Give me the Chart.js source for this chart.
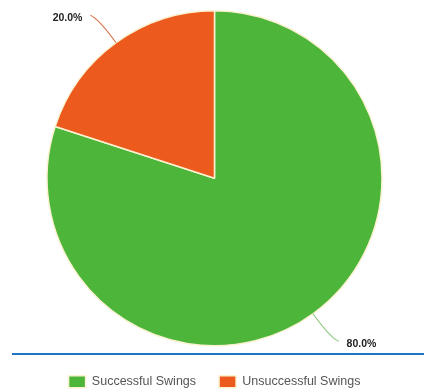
<!DOCTYPE html>
<html>
<head>
<meta charset="utf-8">
<script src="https://cdn.jsdelivr.net/npm/chart.js@4/dist/chart.umd.min.js"></script>
<style>
  html, body { margin: 0; padding: 0; background: #fff; }
  #wrap { width: 424px; height: 392px; }
</style>
</head>
<body>
<div id="wrap"><canvas id="pieChart" width="424" height="392"></canvas></div>
<script>
var labels = ['Successful Swings', 'Unsuccessful Swings'];
var values = [80, 20];
var colors = ['#4cb53a', '#ec5a1e'];
var leaderColors = ['#8fc77f', '#d8774f'];

// percent labels with curved leader lines
var outLabels = {
  id: 'outLabels',
  afterDatasetsDraw: function(chart) {
    var ctx = chart.ctx;
    var meta = chart.getDatasetMeta(0);
    var total = values.reduce(function(a, b) { return a + b; }, 0);
    meta.data.forEach(function(arc, i) {
      var mid = (arc.startAngle + arc.endAngle) / 2;
      var r = arc.outerRadius;
      var cos = Math.cos(mid), sin = Math.sin(mid);
      var x0 = arc.x + cos * r, y0 = arc.y + sin * r;
      var x1 = arc.x + cos * (r + 30), y1 = arc.y + sin * (r + 30);
      var dir = cos < 0 ? -1 : 1;
      var x2 = x1 + dir * 8, y2 = y1 + sin * 4;
      ctx.save();
      ctx.strokeStyle = leaderColors[i];
      ctx.lineWidth = 1.2;
      ctx.beginPath();
      ctx.moveTo(x0, y0);
      ctx.quadraticCurveTo(x1, y1, x2, y2);
      ctx.stroke();
      ctx.font = 'bold 10.5px "Liberation Sans", Arial, sans-serif';
      ctx.fillStyle = '#222';
      ctx.textBaseline = 'middle';
      ctx.textAlign = dir < 0 ? 'right' : 'left';
      ctx.fillText((values[i] / total * 100).toFixed(1) + '%', x2 + dir * 8, y2 + 2.5);
      ctx.restore();
    });
  }
};

// blue rule above the legend, legend nudged down
var legendRule = {
  id: 'legendRule',
  afterLayout: function(chart) {
    chart.legend.top += 6;
    chart.legend.bottom += 6;
  },
  afterDraw: function(chart) {
    var ctx = chart.ctx;
    ctx.save();
    ctx.strokeStyle = '#1f74c4';
    ctx.lineWidth = 2;
    ctx.beginPath();
    ctx.moveTo(12, 354);
    ctx.lineTo(424, 354);
    ctx.stroke();
    ctx.restore();
  }
};

new Chart(document.getElementById('pieChart'), {
  type: 'pie',
  data: {
    labels: labels,
    datasets: [{
      data: values,
      backgroundColor: colors,
      borderColor: '#fbf2d2',
      borderWidth: 1.5
    }]
  },
  options: {
    responsive: false,
    animation: false,
    layout: { padding: { top: 10, left: 5, right: 0, bottom: 0 } },
    plugins: {
      legend: {
        position: 'bottom',
        labels: {
          boxWidth: 17,
          boxHeight: 12,
          padding: 23,
          color: '#555',
          font: { size: 12.5, family: '"Liberation Sans", Arial, sans-serif' }
        }
      },
      tooltip: { enabled: false }
    }
  },
  plugins: [outLabels, legendRule]
});
</script>
</body>
</html>
